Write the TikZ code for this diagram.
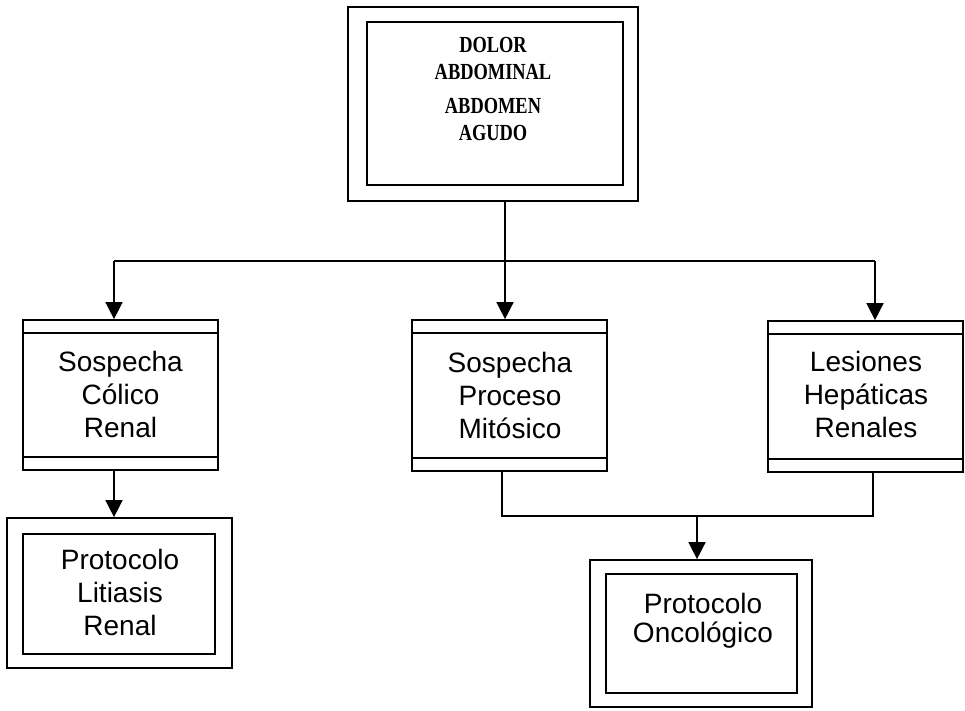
\documentclass[tikz,border=0pt]{standalone}
\usepackage{fontspec}
\setmainfont{Liberation Serif}
\setsansfont{Liberation Sans}
\newfontfamily\topfont[FakeStretch=0.8]{Liberation Serif}
\usetikzlibrary{arrows.meta,fit}
\begin{document}
\begin{tikzpicture}[x=1pt,y=-1pt,
  box/.style={draw, line width=1.7pt, inner sep=0pt},
  band/.style={line width=1.5pt},
  conn/.style={line width=1.5pt},
  arr/.style={line width=1.5pt, -{Triangle[length=17pt,width=17pt]}},
  txt/.style={font=\sffamily\fontsize{28}{33}\selectfont, align=center, inner sep=0pt},
  toptext/.style={font=\topfont\bfseries\fontsize{23}{27}\selectfont, align=center, inner sep=0pt}]
\useasboundingbox (0,0) rectangle (965,711);

% top box
\node[box, fit={(348,7) (638,201)}] (top) {};
\node[box, fit={(367,22) (623,185)}] (topin) {};
\node[toptext] (toptxt) at (493,89) {DOLOR\\ABDOMINAL\\[7pt]ABDOMEN\\AGUDO};

% middle row
\node[box, fit={(23,320) (218,470)}] (cl) {};
\draw[band] ([yshift=-14pt]cl.north west) -- ([yshift=-14pt]cl.north east);
\draw[band] ([yshift=14pt]cl.south west) -- ([yshift=14pt]cl.south east);
\node[txt] (cltxt) at (120.5,394) {Sospecha\\Cólico\\Renal};

\node[box, fit={(412,320) (607,471)}] (cm) {};
\draw[band] ([yshift=-14pt]cm.north west) -- ([yshift=-14pt]cm.north east);
\draw[band] ([yshift=14pt]cm.south west) -- ([yshift=14pt]cm.south east);
\node[txt] (cmtxt) at (510,395) {Sospecha\\Proceso\\Mitósico};

\node[box, fit={(768,321) (963,472)}] (cr) {};
\draw[band] ([yshift=-14pt]cr.north west) -- ([yshift=-14pt]cr.north east);
\draw[band] ([yshift=14pt]cr.south west) -- ([yshift=14pt]cr.south east);
\node[txt] (crtxt) at (866,394) {Lesiones\\Hepáticas\\Renales};

% bottom boxes
\node[box, fit={(7,518) (232,668)}] (lit) {};
\node[box, fit={(23,534) (215,654)}] (litin) {};
\node[txt] (littxt) at (120,592) {Protocolo\\Litiasis\\Renal};

\node[box, fit={(590,560) (812,707)}] (onc) {};
\node[box, fit={(606,574) (797,693)}] (oncin) {};
\node[txt, font=\sffamily\fontsize{28}{29}\selectfont] (onctxt) at (703,621) {Protocolo\\Oncológico};

% connectors
\coordinate (j0) at (505,261);
\coordinate (jl) at (114,261);
\coordinate (jr) at (875,261);
\draw[conn] (top.south -| j0) -- (j0);
\draw[conn] (jl) -- (jr);
\draw[arr] (jl) -- (cl.north -| jl);
\draw[arr] (j0) -- (cm.north -| j0);
\draw[arr] (jr) -- (cr.north -| jr);
\draw[arr] (cl.south -| jl) -- (lit.north -| jl);

\coordinate (k1) at (502,516);
\coordinate (k2) at (873,516);
\coordinate (k0) at (697,516);
\draw[conn] (cm.south -| k1) -- (k1) -- (k2) -- (cr.south -| k2);
\draw[arr] (k0) -- (onc.north -| k0);
\end{tikzpicture}
\end{document}
